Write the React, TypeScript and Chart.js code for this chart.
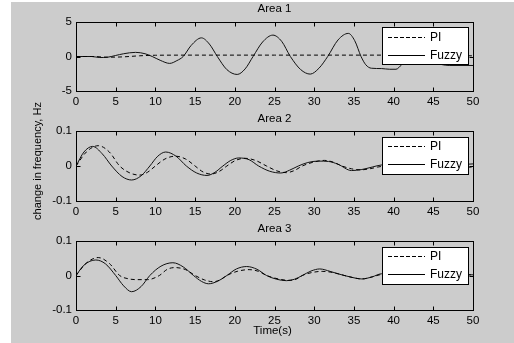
import React, { useEffect, useRef } from "react";
import { Chart, registerables } from "chart.js";
Chart.register(...registerables);

const FONT = '"Liberation Sans", Arial, sans-serif';
const W = 514;
const H = 343;

const timeTicks = [0, 5, 10, 15, 20, 25, 30, 35, 40, 45, 50];
const area1Ticks = [-5, 0, 5];
const area23Ticks = [-0.1, 0, 0.1];
const seriesNames = ["PI", "Fuzzy"];
const titles = ["Area 1", "Area 2", "Area 3"];
const yAxisLabel = "change in frequency, Hz";
const xAxisLabel = "Time(s)";

// Area 1
const a1PiT = [0, 2, 4, 6, 8, 10, 15, 20, 25, 30, 35, 40, 45, 50];
const a1PiV = [0, 0, -0.1, -0.05, 0.1, 0.18, 0.2, 0.2, 0.2, 0.2, 0.2, 0.2, 0.15, 0.1];
const a1FzT = [0, 2, 3, 4, 5, 6, 7.5, 8.7, 9.6, 10.6, 11.8, 12.7, 13.5, 14.5, 15.8, 16.8, 17.8, 19, 20.3, 21.3, 22.3, 23.5, 24.8, 25.9, 27, 28.3, 29.5, 30.6, 31.7, 33, 34.3, 35.1, 35.9, 36.5, 37.2, 38.5, 39.5, 40.3, 41, 41.6, 43, 45, 47, 50];
const a1FzV = [0, 0, -0.15, -0.1, 0.15, 0.4, 0.6, 0.4, 0, -0.55, -1.0, -0.6, 0, 1.6, 2.7, 1.8, 0, -1.9, -2.6, -1.8, 0, 2.1, 3.1, 2.2, 0, -1.9, -2.55, -1.7, 0, 2.4, 3.35, 2.3, 0, -1.2, -1.7, -1.75, -1.85, -1.85, -1.2, -0.6, -0.4, -0.9, -1.3, -1.3];

// Area 2
const a2PiT = [0, 1.3, 2.8, 4.2, 5.5, 6.8, 8, 9, 10, 11.2, 12.5, 13.8, 15, 16, 17, 18, 19, 20.1, 21.3, 22.6, 24, 25.3, 26.5, 27.5, 28.5, 29.9, 31.3, 32.4, 33.5, 34.7, 35.8, 37, 38, 40, 42, 44, 46, 48, 50];
const a2PiV = [0, 0.04, 0.058, 0.04, 0, -0.02, -0.026, -0.018, 0, 0.02, 0.028, 0.02, 0, -0.017, -0.023, -0.016, 0, 0.016, 0.022, 0.016, 0, -0.014, -0.019, -0.013, 0, 0.011, 0.016, 0.011, 0, -0.008, -0.011, -0.008, -0.003, 0.003, 0.004, 0, -0.004, -0.004, -0.003];
const a2FzT = [0, 1, 2.1, 3.3, 4.5, 5.8, 7, 8.2, 9.3, 10.3, 11.3, 12.6, 13.9, 15.2, 16.5, 17.5, 18.5, 19.5, 20.5, 21.8, 23, 24.4, 25.8, 26.9, 28, 29.2, 30.5, 31.8, 33, 34.7, 36, 37.3, 38.5, 40, 42, 44, 46, 48, 50];
const a2FzV = [0, 0.04, 0.056, 0.035, 0, -0.03, -0.04, -0.028, 0, 0.028, 0.04, 0.028, 0, -0.02, -0.027, -0.018, 0, 0.016, 0.023, 0.018, 0, -0.015, -0.02, -0.012, 0, 0.01, 0.014, 0.013, 0.005, -0.013, -0.01, -0.003, 0.003, 0.004, 0.001, -0.004, -0.003, 0.003, 0.006];

// Area 3
const a3PiT = [0, 1.3, 2.8, 4.2, 5.5, 6.7, 7.8, 9, 10.5, 11.5, 12.5, 13.8, 15, 16.2, 17.3, 18.2, 19, 20.3, 21.8, 23, 24, 25.5, 26.8, 27.8, 28.5, 29.8, 31, 32, 33, 34.5, 36, 37.3, 38.5, 40, 42, 44, 46, 48, 50];
const a3PiV = [0, 0.036, 0.052, 0.035, 0, -0.01, -0.012, -0.012, 0, 0.018, 0.023, 0.017, 0, -0.013, -0.018, -0.012, 0, 0.012, 0.017, 0.012, 0, -0.01, -0.014, -0.01, 0, 0.009, 0.012, 0.01, 0.005, -0.004, -0.01, -0.004, 0.003, 0.004, 0, -0.003, -0.002, 0.002, 0.002];
const a3FzT = [0, 1, 2.5, 3.7, 5, 6, 7, 8.2, 9.3, 10.7, 12.2, 13.5, 14.8, 15.8, 16.7, 17.8, 19, 20.2, 21.5, 22.8, 24, 25.3, 26.5, 27.5, 28.5, 29.6, 30.7, 32, 33, 34.5, 36, 37.3, 38.5, 40, 42, 44, 46, 48, 50];
const a3FzV = [0, 0.03, 0.045, 0.034, 0, -0.03, -0.047, -0.032, 0, 0.027, 0.037, 0.025, 0, -0.017, -0.024, -0.017, 0, 0.019, 0.026, 0.018, 0, -0.011, -0.015, -0.011, 0, 0.013, 0.019, 0.012, 0.005, -0.004, -0.01, -0.004, 0.005, 0.004, 0, -0.003, -0.002, 0.002, 0.002];

type PanelCfg = {
  title: string;
  piT: number[]; piV: number[]; fzT: number[]; fzV: number[];
  yTicks: number[];
  top: number; bottom: number;
  titleY: number;
  legTop: number; legBottom: number; row1: number; row2: number;
  showYLabel: boolean; showXLabel: boolean;
};

const panels: PanelCfg[] = [
  { title: titles[0], piT: a1PiT, piV: a1PiV, fzT: a1FzT, fzV: a1FzV, yTicks: area1Ticks,
    top: 22, bottom: 91, titleY: 9, legTop: 27, legBottom: 64, row1: 37, row2: 55, showYLabel: false, showXLabel: false },
  { title: titles[1], piT: a2PiT, piV: a2PiV, fzT: a2FzT, fzV: a2FzV, yTicks: area23Ticks,
    top: 131, bottom: 201, titleY: 119, legTop: 137, legBottom: 174, row1: 146, row2: 164, showYLabel: true, showXLabel: false },
  { title: titles[2], piT: a3PiT, piV: a3PiV, fzT: a3FzT, fzV: a3FzV, yTicks: area23Ticks,
    top: 241, bottom: 310, titleY: 229, legTop: 247, legBottom: 284, row1: 256, row2: 274, showYLabel: false, showXLabel: true },
];

function Panel({ cfg }: { cfg: PanelCfg }) {
  const ref = useRef<HTMLCanvasElement>(null);
  useEffect(() => {
    if (!ref.current) return;
    const toPts = (t: number[], v: number[]) => t.map((x, i) => ({ x, y: v[i] }));
    const ymin = cfg.yTicks[0];
    const ymax = cfg.yTicks[cfg.yTicks.length - 1];
    const decor = {
      id: "decor",
      afterDatasetsDraw(chart: any) {
        const { ctx, chartArea: a, scales } = chart;
        ctx.save();
        ctx.strokeStyle = "#000";
        ctx.lineWidth = 1;
        const L = Math.round(a.left) + 0.5;
        const R = Math.round(a.right) + 0.5;
        const T = Math.round(a.top) + 0.5;
        const B = Math.round(a.bottom) + 0.5;
        ctx.strokeRect(L, T, R - L, B - T);
        ctx.beginPath();
        for (const v of timeTicks) {
          const x = Math.round(scales.x.getPixelForValue(v)) + 0.5;
          ctx.moveTo(x, B); ctx.lineTo(x, B - 4);
          ctx.moveTo(x, T); ctx.lineTo(x, T + 4);
        }
        for (const v of cfg.yTicks) {
          const y = Math.round(scales.y.getPixelForValue(v)) + 0.5;
          ctx.moveTo(L, y); ctx.lineTo(L + 4, y);
          ctx.moveTo(R, y); ctx.lineTo(R - 4, y);
        }
        ctx.stroke();
        // legend
        const lx = 382.5, lw = 86;
        ctx.fillStyle = "#fff";
        ctx.fillRect(lx, cfg.legTop + 0.5, lw, cfg.legBottom - cfg.legTop);
        ctx.strokeRect(lx, cfg.legTop + 0.5, lw, cfg.legBottom - cfg.legTop);
        ctx.beginPath();
        ctx.setLineDash([4, 2]);
        ctx.moveTo(388, cfg.row1 + 0.5); ctx.lineTo(425, cfg.row1 + 0.5);
        ctx.stroke();
        ctx.setLineDash([]);
        ctx.beginPath();
        ctx.moveTo(388, cfg.row2 + 0.5); ctx.lineTo(425, cfg.row2 + 0.5);
        ctx.stroke();
        ctx.fillStyle = "#000";
        ctx.font = `12px ${FONT}`;
        ctx.textAlign = "left";
        ctx.textBaseline = "middle";
        ctx.fillText(seriesNames[0], 430, cfg.row1 + 1);
        ctx.fillText(seriesNames[1], 430, cfg.row2 + 1);
        ctx.restore();
      },
      afterDraw(chart: any) {
        const { ctx, chartArea: a } = chart;
        ctx.save();
        ctx.fillStyle = "#000";
        ctx.font = `11.5px ${FONT}`;
        ctx.textAlign = "center";
        ctx.textBaseline = "middle";
        const cx = (a.left + a.right) / 2;
        ctx.fillText(cfg.title, cx, cfg.titleY);
        if (cfg.showXLabel) ctx.fillText(xAxisLabel, cx - 2, 331);
        if (cfg.showYLabel) {
          ctx.font = `11px ${FONT}`;
          ctx.translate(38, 161);
          ctx.rotate(-Math.PI / 2);
          ctx.fillText(yAxisLabel, 0, 0);
        }
        ctx.restore();
      },
    };
    const tickFont = { family: FONT, size: 11.5 };
    const chart = new Chart(ref.current, {
      type: "line",
      data: {
        datasets: [
          { label: seriesNames[0], data: toPts(cfg.piT, cfg.piV), borderColor: "#000", borderWidth: 1, borderDash: [4, 3], pointRadius: 0, cubicInterpolationMode: "monotone", fill: false },
          { label: seriesNames[1], data: toPts(cfg.fzT, cfg.fzV), borderColor: "#111", borderWidth: 1, pointRadius: 0, cubicInterpolationMode: "monotone", fill: false },
        ],
      },
      options: {
        animation: false,
        responsive: false,
        devicePixelRatio: 1,
        events: [],
        layout: { padding: { top: cfg.top, left: 0, right: W - 473, bottom: H - cfg.bottom - 20 } },
        plugins: { legend: { display: false }, tooltip: { enabled: false }, title: { display: false } },
        scales: {
          x: {
            type: "linear", min: 0, max: 50,
            grid: { display: false, drawTicks: false },
            border: { display: false },
            afterBuildTicks: (s: any) => { s.ticks = timeTicks.map((v) => ({ value: v })); },
            afterFit: (s: any) => { s.height = 20; },
            ticks: { padding: 4, color: "#000", font: tickFont, maxRotation: 0, autoSkip: false, callback: (v: any) => String(v) },
          },
          y: {
            type: "linear", min: ymin, max: ymax,
            grid: { display: false, drawTicks: false },
            border: { display: false },
            afterBuildTicks: (s: any) => { s.ticks = cfg.yTicks.map((v) => ({ value: v })); },
            afterFit: (s: any) => { s.width = 76; },
            ticks: { padding: 4, color: "#000", font: tickFont, autoSkip: false, callback: (v: any) => String(Math.round(Number(v) * 1000) / 1000) },
          },
        },
      } as any,
      plugins: [decor],
    });
    return () => chart.destroy();
  }, [cfg]);
  return <canvas ref={ref} width={W} height={H} style={{ position: "absolute", left: 0, top: 0, display: "block" }} />;
}

export default function App() {
  return (
    <div style={{ position: "fixed", left: 0, top: 0, width: W, height: H, background: "#fff", overflow: "hidden" }}>
      <div style={{ position: "absolute", left: 11, top: 2, right: 0, bottom: 0, background: "#cccccc" }} />
      {panels.map((p) => (
        <Panel key={p.title} cfg={p} />
      ))}
    </div>
  );
}
